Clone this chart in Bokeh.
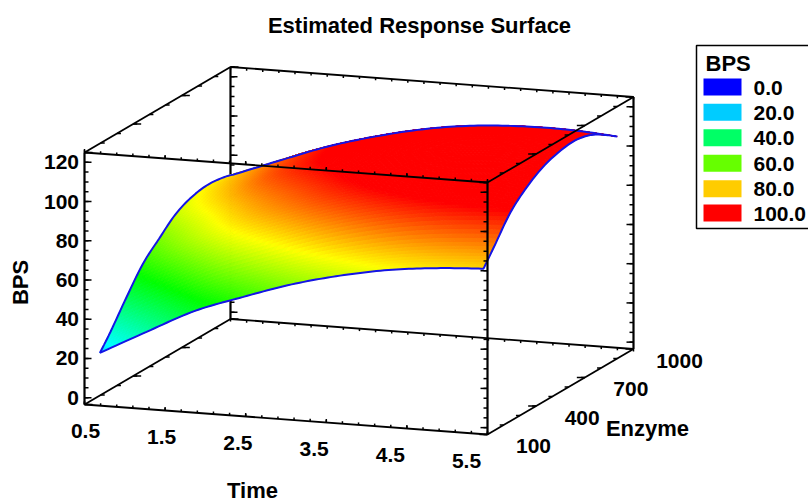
import colorsys
import numpy as np
from bokeh.plotting import figure
from bokeh.embed import file_html
from bokeh.resources import INLINE
from bokeh.core.properties import value

title_text = "Estimated Response Surface"
time_ticks = [0.5, 1.5, 2.5, 3.5, 4.5, 5.5]
enzyme_ticks = [100, 400, 700, 1000]
bps_ticks = [0, 20, 40, 60, 80, 100, 120]
legend_levels = [0.0, 20.0, 40.0, 60.0, 80.0, 100.0]
time_nodes = [0.62, 1.2, 1.8, 2.4, 3.0, 3.6, 4.2, 4.8, 5.38]
enzyme_nodes = [135, 200, 300, 400, 500, 600, 700, 800, 900, 960]
bps_t062 = [21.5, 29.0, 42.0, 54.0, 62.0, 69.5, 73.5, 75.0, 74.0, 72.5]
bps_t120 = [34.0, 41.5, 54.4, 65.8, 73.4, 80.0, 83.4, 84.6, 82.9, 81.5]
bps_t180 = [46.5, 54.0, 66.8, 77.6, 84.9, 91.5, 93.9, 94.5, 92.2, 90.5]
bps_t240 = [55.5, 63.2, 76.0, 86.4, 93.5, 99.6, 101.8, 102.1, 99.5, 97.5]
bps_t300 = [63.7, 71.5, 84.2, 94.2, 101.0, 106.5, 108.5, 108.4, 105.3, 103.0]
bps_t360 = [70.0, 77.8, 90.6, 100.1, 106.6, 111.5, 113.2, 112.7, 109.1, 106.5]
bps_t420 = [74.7, 82.6, 95.2, 104.2, 110.3, 114.6, 116.1, 115.0, 111.0, 108.0]
bps_t480 = [77.5, 85.5, 98.0, 106.6, 112.4, 116.0, 117.3, 115.8, 111.3, 108.0]
bps_t538 = [79.0, 87.0, 99.5, 107.5, 113.0, 116.0, 117.0, 115.0, 110.0, 106.4]
Z = np.array([bps_t062, bps_t120, bps_t180, bps_t240, bps_t300, bps_t360, bps_t420, bps_t480, bps_t538])

ORIGIN = np.array([84.0, 404.0])
TVEC = np.array([403.0, 30.0])
EVEC = np.array([146.0, -85.5])
ZVEC = np.array([0.0, -252.0])
T0, T1, E0, E1, Z0, Z1 = 0.5, 5.5, 100.0, 1000.0, -3.5, 125.0

def proj(t, e, z):
    t, e, z = np.asarray(t, float), np.asarray(e, float), np.asarray(z, float)
    a, b, c = (t-T0)/(T1-T0), (e-E0)/(E1-E0), (z-Z0)/(Z1-Z0)
    return ORIGIN[0]+a*TVEC[0]+b*EVEC[0]+c*ZVEC[0], ORIGIN[1]+a*TVEC[1]+b*EVEC[1]+c*ZVEC[1]

def refine(a, n):
    a = np.asarray(a, float)
    m = a.shape[0]
    out = []
    for i in range(m-1):
        p0, p1, p2, p3 = a[max(i-1, 0)], a[i], a[i+1], a[min(i+2, m-1)]
        for s in np.linspace(0, 1, n, endpoint=False):
            out.append(p1 + 0.5*s*(p2-p0) + s*s*(p0-2.5*p1+2*p2-0.5*p3) + s*s*s*(1.5*p1-0.5*p0-1.5*p2+0.5*p3))
    out.append(a[-1])
    return np.array(out)

def col(z):
    h = max(0.0, min(1.0, 1 - z/100.0)) * 240/360
    r, g, b = colorsys.hsv_to_rgb(h, 1, 1)
    return "#%02x%02x%02x" % (round(r*255), round(g*255), round(b*255))

p = figure(width=808, height=502, x_range=(0, 808), y_range=(502, 0), output_backend="svg",
           toolbar_location=None, min_border=0, outline_line_color=None, background_fill_color="white")
p.xaxis.visible = False
p.yaxis.visible = False
p.grid.visible = False

BOLD = dict(text_font=value("Liberation Sans"), text_font_style="bold", text_color="black")

def edge(a, b, width=1.8):
    x, y = proj([a[0], b[0]], [a[1], b[1]], [a[2], b[2]])
    p.line(x, y, line_color="black", line_width=width)

def ticks_seg(pts, dx, dy, width=1.5):
    xs, ys = [], []
    for t, e, z in pts:
        x, y = proj(t, e, z)
        xs.append([float(x), float(x+dx)])
        ys.append([float(y), float(y+dy)])
    p.multi_line(xs, ys, line_color="black", line_width=width)

tmin = np.arange(T0, T1+1e-6, 0.2)
emin = np.arange(E0, E1+1e-6, 100)
zmin = np.arange(0, Z1+1e-6, 5)

def box_back():
    edge((T0, E1, Z0), (T1, E1, Z0))
    edge((T0, E1, Z1), (T1, E1, Z1))
    edge((T0, E0, Z1), (T0, E1, Z1))
    edge((T0, E1, Z0), (T0, E1, Z1), 2.2)
    edge((T1, E1, Z0), (T1, E1, Z1), 2.2)
    edge((T0, E0, Z0), (T1, E0, Z0))
    edge((T0, E0, Z0), (T0, E1, Z0))
    edge((T1, E0, Z0), (T1, E1, Z0))
    edge((T0, E0, Z0), (T0, E0, Z1), 2.2)
    for zc in (Z0, Z1):
        ticks_seg([(t, E1, zc) for t in tmin], 0, 2.5)
    ticks_seg([(t, E0, Z0) for t in tmin], 0, -2.5)
    ticks_seg([(t, E0, Z0) for t in time_ticks], 0, -3.5)
    for zc in (Z0, Z1):
        ticks_seg([(T0, e, zc) for e in emin], 4, 0)
        ticks_seg([(T0, e, zc) for e in enzyme_ticks], 8, 0)
    ticks_seg([(T1, e, Z0) for e in emin], -4, 0)
    ticks_seg([(T1, e, Z0) for e in enzyme_ticks], -8, 0)
    for t, e, s in ((T0, E0, 1), (T0, E1, 1), (T1, E1, -1)):
        ticks_seg([(t, e, z) for z in zmin], 4*s, 0)
        ticks_seg([(t, e, z) for z in bps_ticks], 7*s, 0)

def box_front():
    edge((T0, E0, Z1), (T1, E0, Z1))
    edge((T1, E0, Z1), (T1, E1, Z1))
    edge((T1, E0, Z0), (T1, E0, Z1), 2.2)
    ticks_seg([(t, E0, Z1) for t in tmin], 0, -2.5)
    ticks_seg([(t, E0, Z1) for t in time_ticks], 0, -3.5)
    ticks_seg([(T1, e, Z1) for e in emin], -4, 0)
    ticks_seg([(T1, e, Z1) for e in enzyme_ticks], -8, 0)
    ticks_seg([(T1, E0, z) for z in zmin], -4, 0)
    ticks_seg([(T1, E0, z) for z in bps_ticks], -7, 0)

box_back()

tf = refine(time_nodes, 12)
ef = refine(enzyme_nodes, 8)
Zf = refine(Z, 12)
Zf = refine(Zf.T, 8).T
TT, EE = np.meshgrid(tf, ef, indexing="ij")
PX, PY = proj(TT, EE, Zf)
xs, ys, cs = [], [], []
for j in range(len(ef)-2, -1, -1):
    for i in range(len(tf)-1):
        xs.append([float(PX[i, j]), float(PX[i+1, j]), float(PX[i+1, j+1]), float(PX[i, j+1])])
        ys.append([float(PY[i, j]), float(PY[i+1, j]), float(PY[i+1, j+1]), float(PY[i, j+1])])
        cs.append(col(Zf[i:i+2, j:j+2].mean()))
p.patches(xs, ys, fill_color=cs, line_color=cs, line_width=1)

BLUE = "#1414E6"
bx = np.concatenate([PX[:, 0], PX[-1, :], PX[::-1, -1], PX[0, ::-1]])
by = np.concatenate([PY[:, 0], PY[-1, :], PY[::-1, -1], PY[0, ::-1]])
p.line(bx, by, line_color=BLUE, line_width=2)

box_front()

FS = "21px"
AX = "22px"
p.text([419], [25], text=[title_text], text_align="center", text_baseline="middle", text_font_size="22px", **BOLD)
for z in bps_ticks:
    x, y = proj(T0, E0, z)
    p.text([float(x)-5.5], [float(y)], text=[str(z)], text_align="right", text_baseline="middle", text_font_size=FS, **BOLD)
for t in time_ticks:
    x, y = proj(t, E0, Z0)
    p.text([float(x)+1-4.4*(t-0.5)], [float(y)+26.5], text=["%.1f" % t], text_align="center", text_baseline="middle", text_font_size=FS, **BOLD)
for e in enzyme_ticks:
    x, y = proj(T1, e, Z0)
    p.text([float(x)+46], [float(y)+11.5], text=[str(e)], text_align="center", text_baseline="middle", text_font_size=FS, **BOLD)
p.text([252], [490], text=["Time"], text_align="center", text_baseline="middle", text_font_size=AX, **BOLD)
p.text([647], [428], text=["Enzyme"], text_align="center", text_baseline="middle", text_font_size=AX, **BOLD)
p.text([20], [282], text=["BPS"], angle=[np.pi/2], text_align="center", text_baseline="middle", text_font_size=AX, **BOLD)

p.line([808, 696, 696, 808], [45, 45, 228, 228], line_color="black", line_width=1.5)
p.text([705], [63], text=["BPS"], text_align="left", text_baseline="middle", text_font_size=AX, **BOLD)
tops = [78, 103.3, 128.8, 154.3, 179.7, 204]
for k, lv in enumerate(legend_levels):
    p.quad(left=[703], right=[741], top=[tops[k]], bottom=[tops[k]+17], fill_color=col(lv), line_color=None)
    p.text([753], [tops[k]+9], text=["%.1f" % lv], text_align="left", text_baseline="middle", text_font_size=FS, **BOLD)

open("out.html", "w").write(file_html(p, INLINE))
